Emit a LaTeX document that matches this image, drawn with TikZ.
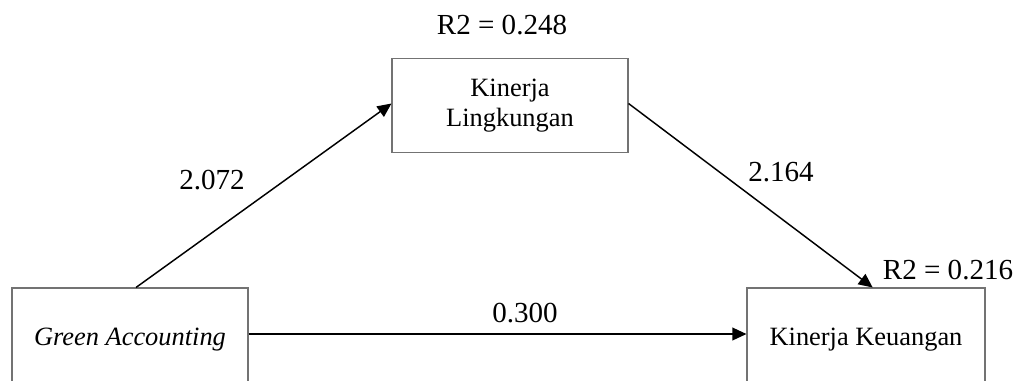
\documentclass[tikz,border=0pt]{standalone}
\usepackage{fontspec}
\setmainfont{Liberation Serif}
\usetikzlibrary{arrows.meta}

\tikzset{
  varbox/.style={draw=black!55, line width=0.8pt, minimum width=177pt, minimum height=78pt,
    inner sep=0pt, align=center, font=\fontsize{19.8}{22.5}\selectfont},
  path/.style={line width=1.1pt, -{Triangle[length=10.5pt,width=9.5pt]}},
  coef/.style={font=\fontsize{21.8}{24}\selectfont}
}

\begin{document}
\begin{tikzpicture}[x=0.75pt,y=-0.75pt]
\useasboundingbox (0,0) rectangle (1019,380);
% variables
\node[varbox] (ga) at (130,340) {\textit{Green Accounting}};
\node[varbox, minimum height=71pt] (kl) at (510,105.5) {Kinerja\\Lingkungan};
\node[varbox, minimum width=178.5pt] (kk) at (866,340) {Kinerja Keuangan};
% paths
\draw[path] ([xshift=4.5pt]ga.north) -- ([yshift=1.5pt]kl.west);
\draw[path] ([yshift=1.5pt]kl.east) -- ([xshift=5pt]kk.north);
\draw[path] ([yshift=4.5pt]ga.east) -- ([yshift=4.5pt]kk.west);
% coefficients
\node[coef] (r2kl) at (502,25) {R2 = 0.248};
\node[coef] (r2kk) at (948,270) {R2 = 0.216};
\node[coef] (c1) at (212,180) {2.072};
\node[coef] (c2) at (781,172) {2.164};
\node[coef] (c3) at (525,313) {0.300};
\end{tikzpicture}
\end{document}
